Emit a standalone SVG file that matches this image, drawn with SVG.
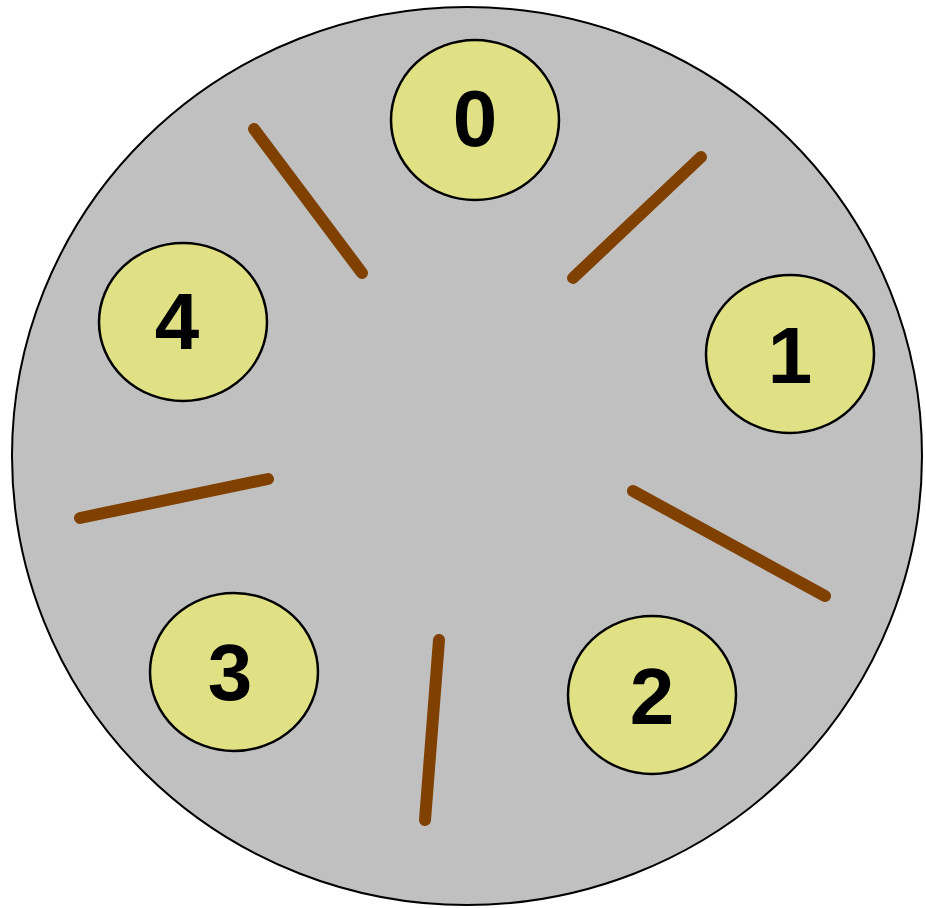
<svg xmlns="http://www.w3.org/2000/svg" width="926" height="908" viewBox="0 0 926 908">
<style>
.table{fill:#c0c0c0;stroke:#000;stroke-width:2}
.phil{fill:#e0e084;stroke:#000;stroke-width:2.5}
.num{font-family:"Liberation Sans",Arial,sans-serif;font-weight:bold;font-size:80px;fill:#000;text-anchor:middle}
.stick{stroke:#804000;stroke-width:12;stroke-linecap:round;fill:none}
</style>
<rect width="926" height="908" fill="#fff"/>
<ellipse id="table" class="table" cx="467" cy="456" rx="455" ry="449"/>
<g id="connectors">
<line class="stick" x1="254" y1="129" x2="362" y2="273"/>
<line class="stick" x1="701" y1="157" x2="573" y2="278"/>
<line class="stick" x1="633" y1="491" x2="825" y2="596"/>
<line class="stick" x1="439" y1="640" x2="425" y2="820"/>
<line class="stick" x1="80" y1="518" x2="268" y2="479"/>
</g>
<g id="p0"><ellipse class="phil" cx="475" cy="120" rx="84" ry="80"/><text class="num" x="475" y="146">0</text></g>
<g id="p1"><ellipse class="phil" cx="790" cy="354" rx="84" ry="79"/><text class="num" x="790" y="383">1</text></g>
<g id="p2"><ellipse class="phil" cx="652" cy="695" rx="84" ry="79"/><text class="num" x="652" y="724">2</text></g>
<g id="p3"><ellipse class="phil" cx="234" cy="672" rx="84" ry="79"/><text class="num" x="230" y="700">3</text></g>
<g id="p4"><ellipse class="phil" cx="183" cy="322" rx="84" ry="79"/><text class="num" x="177" y="349">4</text></g>
</svg>
